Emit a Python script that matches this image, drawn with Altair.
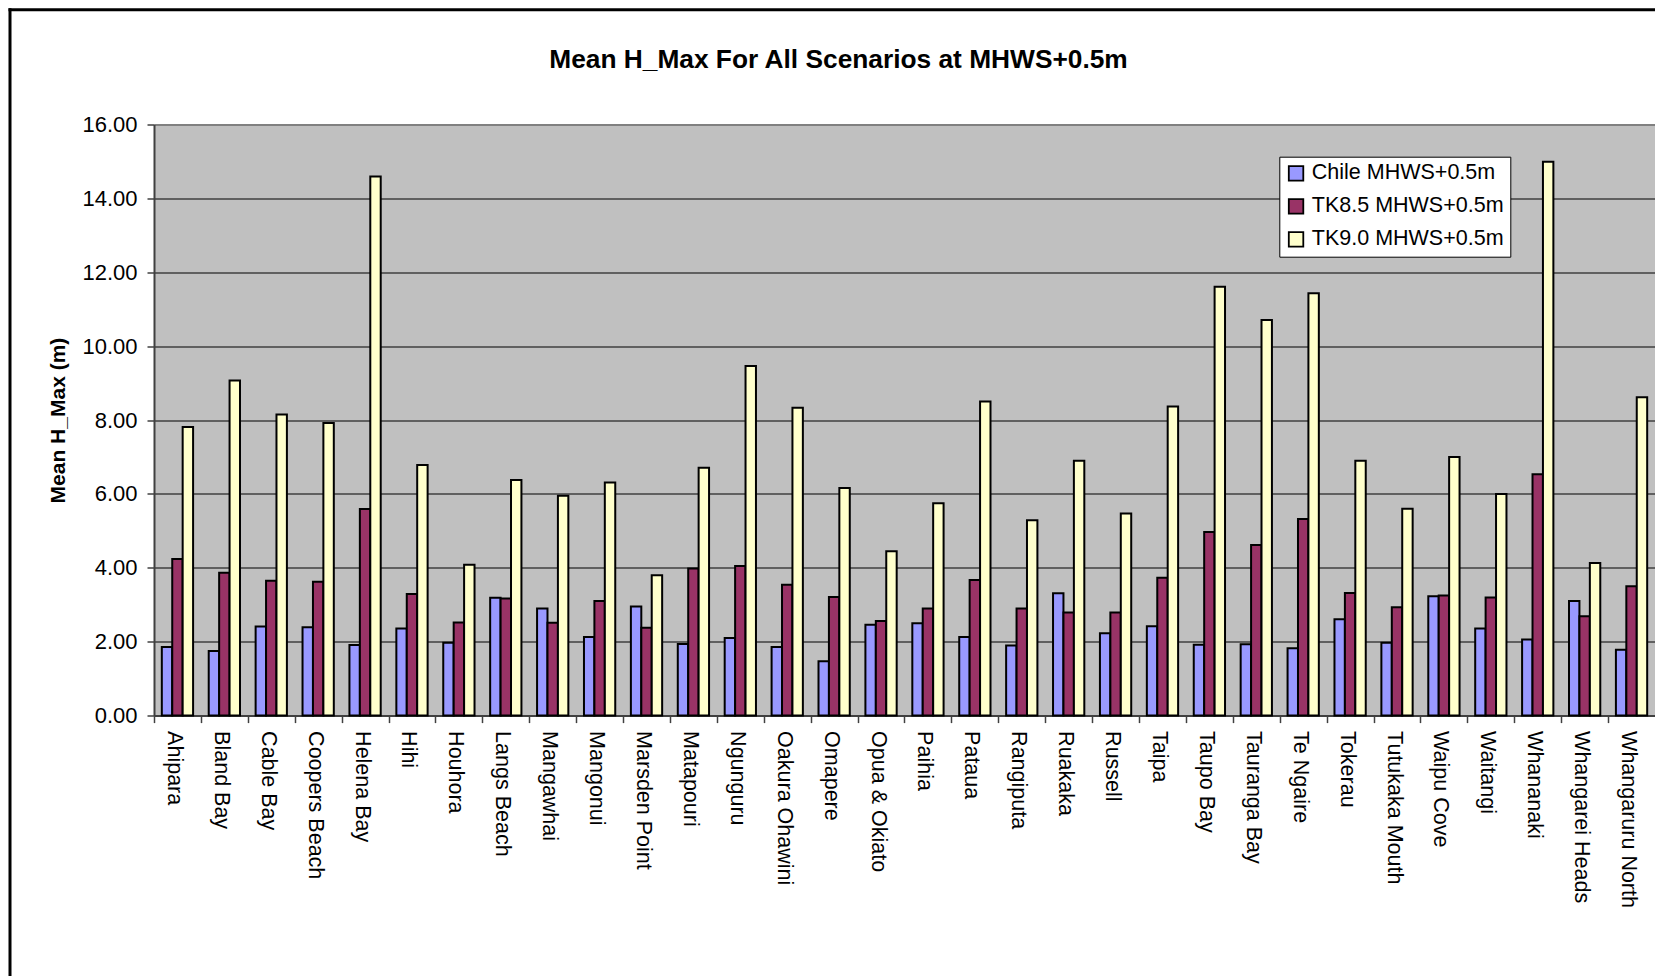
import altair as alt
import pandas as pd

categories = ["Ahipara", "Bland Bay", "Cable Bay", "Coopers Beach", "Helena Bay", "Hihi",
              "Houhora", "Langs Beach", "Mangawhai", "Mangonui", "Marsden Point", "Matapouri",
              "Ngunguru", "Oakura Ohawini", "Omapere", "Opua & Okiato", "Paihia", "Pataua",
              "Rangiputa", "Ruakaka", "Russell", "Taipa", "Taupo Bay", "Tauranga Bay",
              "Te Ngaire", "Tokerau", "Tutukaka Mouth", "Waipu Cove", "Waitangi", "Whananaki",
              "Whangarei Heads", "Whangaruru North"]
series_names = ["Chile MHWS+0.5m", "TK8.5 MHWS+0.5m", "TK9.0 MHWS+0.5m"]
chile = [1.86, 1.75, 2.41, 2.39, 1.91, 2.36, 1.97, 3.19, 2.90, 2.13, 2.95, 1.94, 2.10, 1.86,
         1.47, 2.46, 2.50, 2.13, 1.90, 3.31, 2.23, 2.42, 1.92, 1.93, 1.82, 2.61, 1.97, 3.23,
         2.36, 2.06, 3.10, 1.78]
tk85 = [4.24, 3.87, 3.65, 3.62, 5.59, 3.29, 2.52, 3.17, 2.51, 3.10, 2.38, 3.98, 4.05, 3.54,
        3.21, 2.56, 2.90, 3.67, 2.90, 2.79, 2.79, 3.73, 4.97, 4.62, 5.32, 3.32, 2.93, 3.25,
        3.20, 6.53, 2.69, 3.50]
tk90 = [7.81, 9.07, 8.15, 7.92, 14.59, 6.78, 4.08, 6.38, 5.95, 6.31, 3.80, 6.71, 9.46, 8.33,
        6.16, 4.45, 5.75, 8.50, 5.29, 6.90, 5.47, 8.37, 11.61, 10.71, 11.43, 6.90, 5.60, 7.00,
        6.00, 14.99, 4.13, 8.62]
colors = ["#9999FF", "#993366", "#FFFFCC"]
y_ticks = [0, 2, 4, 6, 8, 10, 12, 14, 16]
title_text = "Mean H_Max For All Scenarios at MHWS+0.5m"
y_title = "Mean H_Max (m)"

rows = []
for i, c in enumerate(categories):
    for s, vals in zip(series_names, [chile, tk85, tk90]):
        rows.append({"site": c, "series": s, "value": vals[i]})
df = pd.DataFrame(rows)

W = 1501
H = 591.1
PL, PT = 154, 124.5
TOTAL_H = 976
step = W / len(categories)

bars = alt.Chart(df).mark_bar(stroke="black", strokeWidth=2).encode(
    x=alt.X("site:N", sort=categories,
            scale=alt.Scale(paddingInner=1/3, paddingOuter=1/6),
            axis=alt.Axis(title=None, labelAngle=90, labelFontSize=21.5, labelColor="black",
                          labelPadding=8, tickSize=7, tickColor="#404040", tickWidth=1.5,
                          domainColor="#404040", domainWidth=2,
                          tickOffset=-step / 2, labelOffset=step / 2 - 4,
                          labelAlign="left", labelBaseline="middle", grid=False,
                          labelLimit=0)),
    xOffset=alt.XOffset("series:N", sort=series_names,
                        scale=alt.Scale(domain=series_names, paddingInner=0, paddingOuter=0)),
    y=alt.Y("value:Q", scale=alt.Scale(domain=[0, 16], nice=False, zero=True),
            axis=alt.Axis(values=y_ticks, format=".2f", title=y_title, titleFontSize=21,
                          titleFontWeight="bold", titleColor="black", titleX=-96, titleY=H / 2,
                          titleAngle=-90, titleAlign="center", titleBaseline="middle",
                          labelFontSize=22, labelColor="black", labelPadding=10, tickSize=7,
                          tickColor="#404040", tickWidth=1.5,
                          domainColor="#404040", domainWidth=2, grid=True,
                          gridColor=alt.condition("datum.value === 16", alt.value("#808080"), alt.value("black")),
                          gridWidth=alt.condition("datum.value === 16", alt.value(2), alt.value(1)))),
    color=alt.Color("series:N", sort=series_names,
                    scale=alt.Scale(domain=series_names, range=colors),
                    legend=alt.Legend(title=None, orient="none", legendX=1125.3, legendY=32.2,
                                      fillColor="white", strokeColor="black", padding=6,
                                      symbolType="square", symbolSize=210,
                                      symbolStrokeColor="black", symbolStrokeWidth=1.8,
                                      labelFontSize=21.5, labelColor="black", labelOffset=5,
                                      rowPadding=10, labelLimit=0)),
)

title_layer = alt.Chart(pd.DataFrame({"t": [title_text]})).mark_text(
    fontSize=26.3, fontWeight="bold", align="center", baseline="alphabetic", color="black"
).encode(text="t:N", x=alt.value(838.5 - PL), y=alt.value(67.8 - PT))

border_df = pd.DataFrame({"k": [0]})
top_rule = alt.Chart(border_df).mark_rule(color="black", strokeWidth=3).encode(
    x=alt.value(-145.5), x2=alt.value(W), y=alt.value(-114.8))
left_rule = alt.Chart(border_df).mark_rule(color="black", strokeWidth=3).encode(
    x=alt.value(-144), y=alt.value(-116.3), y2=alt.value(TOTAL_H - PT))

chart = alt.layer(bars, title_layer, top_rule, left_rule).properties(
    width=W, height=H,
    autosize=alt.AutoSizeParams(type="none"),
    padding={"left": PL, "top": PT, "right": 0, "bottom": TOTAL_H - PT - H},
    background="white",
).configure(font="Liberation Sans").configure_view(fill="#C0C0C0", strokeWidth=0)

chart.save("out.html", embed_options={"renderer": "svg", "actions": False})
